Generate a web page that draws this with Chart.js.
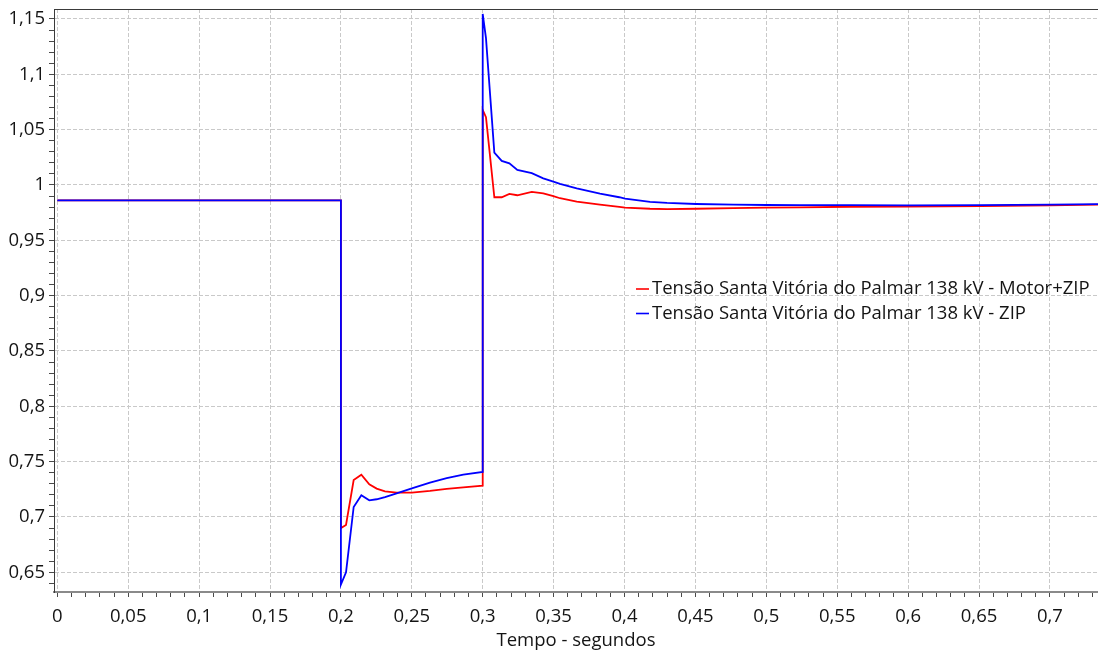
<!DOCTYPE html>
<html>
<head>
<meta charset="utf-8">
<script src="https://cdn.jsdelivr.net/npm/chart.js@4.4.0/dist/chart.umd.min.js"></script>
<style>
  html, body { margin: 0; padding: 0; background: #ffffff; }
  #wrap { width: 1098px; height: 653px; position: relative; }
</style>
</head>
<body>
<div id="wrap"><canvas id="chart" width="1098" height="653"></canvas></div>
<script>
// Voltage at the 138 kV Santa Vitória do Palmar bus, two load models
const SERIES_LABELS = [
  'Tensão Santa Vitória do Palmar 138 kV - Motor+ZIP',
  'Tensão Santa Vitória do Palmar 138 kV - ZIP'
];
const SERIES_COLORS = ['#ff0000', '#0000ff'];

// time samples in seconds (repeated instants are the fault steps)
const TIME = [
  0, 0.2, 0.2, 0.2036, 0.209, 0.2144, 0.22, 0.2252, 0.2311, 0.2393,
  0.25, 0.2628, 0.2746, 0.2863, 0.30, 0.30, 0.3023, 0.3082, 0.3134, 0.3188,
  0.3244, 0.3346, 0.3427, 0.3498, 0.3545, 0.3663, 0.3827, 0.3963, 0.4004, 0.418,
  0.43, 0.4504, 0.4767, 0.5, 0.5237, 0.559, 0.6, 0.651, 0.7, 0.734
];

// per-unit voltage, Motor+ZIP model
const V_MOTOR_ZIP = [
  0.986, 0.986, 0.690, 0.6928, 0.7334, 0.7382, 0.7295, 0.7256, 0.7232, 0.722,
  0.722, 0.7235, 0.7253, 0.7268, 0.7283, 1.0678, 1.0612, 0.9889, 0.9889, 0.9919,
  0.9907, 0.9937, 0.9925, 0.990, 0.988, 0.9849, 0.9823, 0.9802, 0.9795, 0.9785,
  0.9782, 0.9785, 0.9791, 0.9795, 0.9798, 0.9803, 0.9805, 0.981, 0.9816, 0.9822
];

// per-unit voltage, ZIP model
const V_ZIP = [
  0.986, 0.986, 0.639, 0.650, 0.709, 0.7196, 0.715, 0.716, 0.718, 0.7214,
  0.7259, 0.731, 0.735, 0.7382, 0.7407, 1.1545, 1.1326, 1.0292, 1.0217, 1.0196,
  1.0136, 1.0106, 1.006, 1.003, 1.001, 0.997, 0.9922, 0.9889, 0.9876, 0.9848,
  0.9838, 0.9828, 0.9822, 0.9819, 0.9818, 0.9818, 0.9816, 0.9817, 0.9822, 0.9826
];

// labelled ticks; minor ticks fall every 0.01 between them
const X_TICKS = [0, 0.05, 0.1, 0.15, 0.2, 0.25, 0.3, 0.35, 0.4, 0.45, 0.5, 0.55, 0.6, 0.65, 0.7];
const Y_TICKS = [0.65, 0.7, 0.75, 0.8, 0.85, 0.9, 0.95, 1, 1.05, 1.1, 1.15];
const X_TITLE = 'Tempo - segundos';

const FONT = { family: "'Open Sans', 'Noto Sans', sans-serif", size: 18.5 };
const TEXT_COLOR = '#141414';

const isMajor = (list, v) => list.some(m => Math.abs(m - v) < 1e-7);
const fmt = v => String(Number(v.toFixed(2))).replace('.', ',');
const pts = ys => TIME.map((t, i) => ({ x: t, y: ys[i] }));

function minorTicks(from, to) {
  const out = [];
  for (let i = from; i <= to; i++) out.push({ value: i / 100 });
  return out;
}

// dark frame line along the top of the plot area
const topFrame = {
  id: 'topFrame',
  afterDraw(chart) {
    const { ctx, chartArea: a } = chart;
    ctx.save();
    ctx.strokeStyle = '#3a3a3a';
    ctx.lineWidth = 1;
    ctx.beginPath();
    ctx.moveTo(a.left, a.top + 0.5);
    ctx.lineTo(a.right, a.top + 0.5);
    ctx.stroke();
    ctx.restore();
  }
};

// legend drawn inside the plot area, short line sample + label
const insetLegend = {
  id: 'insetLegend',
  afterDraw(chart) {
    const { ctx, chartArea: a } = chart;
    const x0 = a.left + 582, y0 = a.top + 280, row = 24.5;
    ctx.save();
    ctx.font = `${FONT.size}px ${FONT.family}`;
    ctx.textBaseline = 'middle';
    chart.data.datasets.forEach((ds, i) => {
      const y = y0 + i * row;
      ctx.strokeStyle = ds.borderColor;
      ctx.lineWidth = 1.6;
      ctx.beginPath();
      ctx.moveTo(x0, y);
      ctx.lineTo(x0 + 13, y);
      ctx.stroke();
      ctx.fillStyle = TEXT_COLOR;
      ctx.fillText(ds.label, x0 + 16, y);
    });
    ctx.restore();
  }
};

new Chart(document.getElementById('chart'), {
  type: 'line',
  data: {
    datasets: [
      { label: SERIES_LABELS[0], data: pts(V_MOTOR_ZIP), borderColor: SERIES_COLORS[0], order: 1 },
      { label: SERIES_LABELS[1], data: pts(V_ZIP), borderColor: SERIES_COLORS[1], order: 0 }
    ]
  },
  options: {
    responsive: false,
    animation: false,
    devicePixelRatio: 1,
    layout: { padding: { top: 9, right: 0, left: 0, bottom: 0 } },
    elements: {
      line: { borderWidth: 1.8, tension: 0, fill: false },
      point: { radius: 0, hoverRadius: 0 }
    },
    plugins: {
      legend: { display: false },
      tooltip: { enabled: false }
    },
    scales: {
      x: {
        type: 'linear',
        min: -0.00233,
        max: 0.7339,
        afterBuildTicks: s => { s.ticks = minorTicks(0, 73); },
        afterFit: s => { s.height = 61; s.paddingLeft = 0; s.paddingRight = 0; },
        ticks: {
          autoSkip: false,
          maxRotation: 0,
          padding: 9,
          color: TEXT_COLOR,
          font: FONT,
          callback: v => isMajor(X_TICKS, v) ? fmt(v) : ''
        },
        grid: {
          color: c => isMajor(X_TICKS, c.tick.value) ? '#c9c9c9' : 'rgba(0,0,0,0)',
          lineWidth: 1,
          tickColor: '#4a4a4a',
          tickLength: 5,
          tickWidth: 1
        },
        border: { display: true, color: '#8a8a8a', width: 2, dash: [4, 2] },
        title: {
          display: true,
          text: X_TITLE,
          color: TEXT_COLOR,
          font: FONT,
          padding: { top: 0, bottom: 1 }
        }
      },
      y: {
        type: 'linear',
        min: 0.6322,
        max: 1.159,
        afterBuildTicks: s => { s.ticks = minorTicks(64, 115); },
        afterFit: s => { s.width = 54; s.paddingTop = 0; s.paddingBottom = 0; },
        ticks: {
          autoSkip: false,
          padding: 4,
          color: TEXT_COLOR,
          font: FONT,
          callback: v => isMajor(Y_TICKS, v) ? fmt(v) : ''
        },
        grid: {
          color: c => isMajor(Y_TICKS, c.tick.value) ? '#c9c9c9' : 'rgba(0,0,0,0)',
          lineWidth: 1,
          tickColor: '#4a4a4a',
          tickLength: 5,
          tickWidth: 1
        },
        border: { display: true, color: '#3a3a3a', width: 1, dash: [4, 2] }
      }
    }
  },
  plugins: [topFrame, insetLegend]
});
</script>
</body>
</html>
